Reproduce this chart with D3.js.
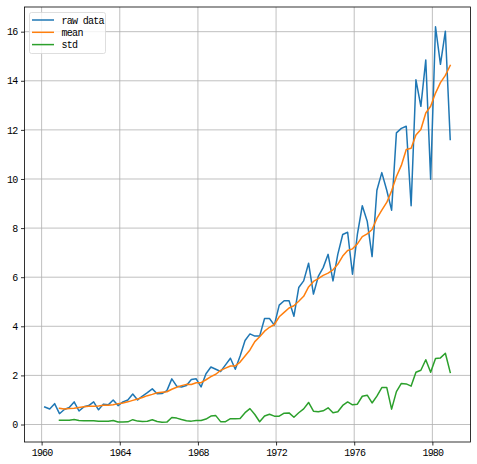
<!DOCTYPE html>
<html>
<head>
<meta charset="utf-8">
<script src="https://cdn.jsdelivr.net/npm/d3@7"></script>
<style>
  body { margin: 0; background: #fff; }
  text { font-family: "Liberation Mono", "DejaVu Sans Mono", monospace; }
</style>
</head>
<body>
<div id="chart"></div>
<script>
// quarterly earnings, 1960 Q1 .. 1980 Q4
const startYear = 1960;
const rawData = [
  0.71, 0.63, 0.85, 0.44, 0.61, 0.69, 0.92, 0.55, 0.72, 0.77, 0.92, 0.60,
  0.83, 0.80, 1.00, 0.77, 0.92, 1.00, 1.24, 1.00, 1.16, 1.30, 1.45, 1.25,
  1.26, 1.38, 1.86, 1.56, 1.53, 1.59, 1.83, 1.86, 1.53, 2.07, 2.34, 2.25,
  2.16, 2.43, 2.70, 2.25, 2.79, 3.42, 3.69, 3.60, 3.60, 4.32, 4.32, 4.05,
  4.86, 5.04, 5.04, 4.41, 5.58, 5.85, 6.57, 5.31, 6.03, 6.39, 6.93, 5.85,
  6.93, 7.74, 7.83, 6.12, 7.74, 8.91, 8.28, 6.84, 9.54, 10.26, 9.54, 8.73,
  11.88, 12.06, 12.15, 8.91, 14.04, 12.96, 14.85, 9.99, 16.20, 14.67, 16.02, 11.61
];
// 4-quarter rolling mean / std (first three empty)
const meanData = [
  null, null, null, 0.6575, 0.6325, 0.6475, 0.665, 0.6925, 0.72, 0.74, 0.74, 0.7525,
  0.78, 0.7875, 0.8075, 0.85, 0.8725, 0.9225, 0.9825, 1.04, 1.10, 1.175, 1.2275, 1.29,
  1.315, 1.335, 1.4375, 1.515, 1.5825, 1.635, 1.6275, 1.7025, 1.7025, 1.8225, 1.95, 2.0475,
  2.205, 2.295, 2.385, 2.385, 2.5425, 2.79, 3.0375, 3.375, 3.5775, 3.8025, 3.96, 4.0725,
  4.3875, 4.5675, 4.7475, 4.8375, 5.0175, 5.22, 5.6025, 5.8275, 5.94, 6.075, 6.165, 6.30,
  6.525, 6.8625, 7.0875, 7.155, 7.3575, 7.65, 7.7625, 7.9425, 8.3925, 8.73, 9.045, 9.5175,
  10.1025, 10.5525, 11.205, 11.25, 11.79, 12.015, 12.69, 12.96, 13.5, 13.9275, 14.22, 14.625
];
const stdData = [
  null, null, null, 0.1711, 0.1682, 0.1706, 0.1994, 0.1621, 0.1525, 0.1525, 0.1525, 0.1325,
  0.1349, 0.1350, 0.1640, 0.1030, 0.1069, 0.1084, 0.1964, 0.1386, 0.12, 0.13, 0.1924, 0.1214,
  0.0926, 0.0968, 0.2878, 0.2610, 0.2011, 0.1520, 0.1372, 0.1668, 0.1668, 0.2223, 0.3421, 0.3628,
  0.1162, 0.1162, 0.2381, 0.2381, 0.2478, 0.4819, 0.6464, 0.4058, 0.1132, 0.3476, 0.4157, 0.3397,
  0.3397, 0.4611, 0.4727, 0.2974, 0.4784, 0.6364, 0.8981, 0.5419, 0.5196, 0.5572, 0.6795, 0.4762,
  0.5170, 0.7755, 0.9189, 0.7999, 0.8261, 1.1502, 1.1948, 0.8768, 1.1558, 1.5024, 1.5087, 0.6252,
  1.3397, 1.6715, 1.6538, 1.5640, 2.1260, 2.2100, 2.6363, 2.1260, 2.6910, 2.7124, 2.9015, 2.1229
];
const seriesNames = ['raw data', 'mean', 'std'];
const seriesColors = ['#1f77b4', '#ff7f0e', '#2ca02c'];
const xTickYears = [1960, 1964, 1968, 1972, 1976, 1980];
const yTicks = [0, 2, 4, 6, 8, 10, 12, 14, 16];

const w = 477, h = 464;
const plot = { left: 24.5, right: 470.5, top: 7, bottom: 442 };

// one date per quarter (end of 2nd month)
const dates = rawData.map((_, i) => new Date(Date.UTC(startYear + Math.floor(i / 4), (i % 4) * 3 + 2, 0)));

const svg = d3.select('#chart')
  .append('svg')
  .attr('width', w)
  .attr('height', h);

// matplotlib-like 5% margins
const xExt = d3.extent(dates).map(d => +d);
const xPad = (xExt[1] - xExt[0]) * 0.05;
const xScale = d3.scaleUtc()
  .domain([new Date(xExt[0] - xPad), new Date(xExt[1] + xPad)])
  .range([plot.left, plot.right]);

const allVals = rawData.concat(meanData, stdData).filter(v => v != null);
const yMin = d3.min(allVals), yMax = d3.max(allVals);
const yPad = (yMax - yMin) * 0.05;
const yScale = d3.scaleLinear()
  .domain([yMin - yPad, yMax + yPad])
  .range([plot.bottom, plot.top]);

// grid
const grid = svg.append('g').attr('class', 'grid');
grid.selectAll('.gx')
  .data(xTickYears)
  .enter()
  .append('line')
  .attr('x1', d => xScale(new Date(Date.UTC(d, 0, 1))))
  .attr('x2', d => xScale(new Date(Date.UTC(d, 0, 1))))
  .attr('y1', plot.top)
  .attr('y2', plot.bottom)
  .attr('stroke', '#b0b0b0')
  .attr('stroke-width', 0.8);
grid.selectAll('.gy')
  .data(yTicks)
  .enter()
  .append('line')
  .attr('x1', plot.left)
  .attr('x2', plot.right)
  .attr('y1', d => yScale(d))
  .attr('y2', d => yScale(d))
  .attr('stroke', '#b0b0b0')
  .attr('stroke-width', 0.8);

// lines
const series = [rawData, meanData, stdData];
const line = d3.line()
  .defined(d => d.v != null)
  .x(d => xScale(d.t))
  .y(d => yScale(d.v));

series.forEach((vals, k) => {
  svg.append('path')
    .datum(vals.map((v, i) => ({ t: dates[i], v: v })))
    .attr('fill', 'none')
    .attr('stroke', seriesColors[k])
    .attr('stroke-width', 1.5)
    .attr('stroke-linejoin', 'round')
    .attr('stroke-linecap', 'square')
    .attr('d', line);
});

// axes
const xAxis = d3.axisBottom(xScale)
  .tickValues(xTickYears.map(y => new Date(Date.UTC(y, 0, 1))))
  .tickFormat(d3.utcFormat('%Y'))
  .tickSize(3.5)
  .tickPadding(3.5);
const yAxis = d3.axisLeft(yScale)
  .tickValues(yTicks)
  .tickSize(3.5)
  .tickPadding(3.5);

const gx = svg.append('g')
  .attr('transform', `translate(0, ${plot.bottom})`)
  .call(xAxis);
const gy = svg.append('g')
  .attr('transform', `translate(${plot.left}, 0)`)
  .call(yAxis);
[gx, gy].forEach(g => {
  g.select('.domain').remove();
  g.selectAll('line').attr('stroke', '#000').attr('stroke-width', 0.8);
  g.selectAll('text')
    .attr('fill', '#000')
    .style('font-size', '10px')
    .style('letter-spacing', '-0.8px');
});

// frame
svg.append('rect')
  .attr('x', plot.left)
  .attr('y', plot.top)
  .attr('width', plot.right - plot.left)
  .attr('height', plot.bottom - plot.top)
  .attr('fill', 'none')
  .attr('stroke', '#000')
  .attr('stroke-width', 0.8);

// legend
const legend = svg.append('g').attr('id', 'legend');
legend.append('rect')
  .attr('x', 29.5)
  .attr('y', 12.5)
  .attr('width', 76)
  .attr('height', 41)
  .attr('rx', 2)
  .attr('fill', 'rgba(255,255,255,0.8)')
  .attr('stroke', '#d6d6d6')
  .attr('stroke-width', 0.8);

const items = legend.selectAll('.item')
  .data(seriesNames)
  .enter()
  .append('g')
  .attr('transform', (_, i) => `translate(0, ${20 + i * 12.3})`);
items.append('line')
  .attr('x1', 32)
  .attr('x2', 54)
  .attr('stroke', (_, i) => seriesColors[i])
  .attr('stroke-width', 1.5);
items.append('text')
  .attr('x', 61.5)
  .attr('y', 3.5)
  .style('font-size', '10px')
  .style('letter-spacing', '-0.7px')
  .text(d => d);
</script>
</body>
</html>
